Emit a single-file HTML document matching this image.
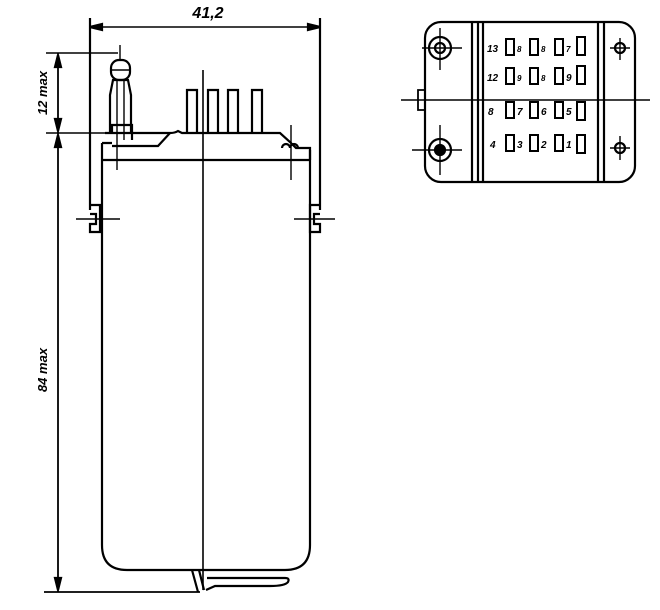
<!DOCTYPE html>
<html><head><meta charset="utf-8"><style>body{margin:0;background:#fff}svg{display:block}</style></head><body>
<svg width="660" height="610" viewBox="0 0 660 610" xmlns="http://www.w3.org/2000/svg" font-family="Liberation Sans, sans-serif" font-weight="bold" font-style="italic">
<g stroke="#000" fill="none" stroke-width="2.2">
<!-- 41,2 dimension -->
<line x1="90" y1="18" x2="90" y2="210"/>
<line x1="320" y1="18" x2="320" y2="210"/>
<line x1="90" y1="27" x2="320" y2="27" stroke-width="1.6"/>
<path d="M90 27 l12 -3 v6z M320 27 l-12 -3 v6z" fill="#000"/>
<!-- 12 max / 84 max -->
<line x1="46" y1="53" x2="118" y2="53" stroke-width="1.6"/>
<line x1="46" y1="133" x2="105" y2="133" stroke-width="1.6"/>
<line x1="58" y1="53" x2="58" y2="592" stroke-width="1.8"/>
<path d="M58 55 l-3 12 h6z M58 131 l-3 -12 h6z M58 135 l-3 12 h6z M58 590 l-3 -12 h6z" fill="#000"/>
<line x1="44" y1="592" x2="200" y2="592" stroke-width="1.8"/>
<!-- center line -->
<line x1="203" y1="70" x2="203" y2="590" stroke-width="1.6"/>
<!-- body -->
<path d="M102 143 V545 Q102 570 127 570 H285 Q310 570 310 545 V150"/>
<path d="M102 143 H112 M102 160 H310"/>
<path d="M105 133 H125 L150 133 L170 133 Q175 133 178 131 L182 133 H280 L290 142 L296 148 H310 V160"/>
<path d="M112 146 H158 L170 133"/>
<!-- pins -->
<path d="M187 133 V90 H197 V133 M208 133 V90 H218 V133 M228 133 V90 H238 V133 M252 133 V90 H262 V133"/>
<!-- stud -->
<path d="M110 133 V95 L113 80 H128 L131 95 V133"/>
<path d="M112 133 V125 H132 V140"/>
<line x1="117" y1="80" x2="117" y2="170" stroke-width="1.4"/>
<line x1="124" y1="80" x2="124" y2="140" stroke-width="1.4"/>
<rect x="111" y="60" width="19" height="20" rx="8"/>
<line x1="120" y1="45" x2="120" y2="60" stroke-width="1.4"/>
<line x1="111" y1="70" x2="130" y2="70" stroke-width="1.4"/>
<!-- right small stud -->
<path d="M282 148 a4 4 0 1 1 8 0 a4 4 0 1 1 8 0" />
<line x1="291" y1="125" x2="291" y2="180" stroke-width="1.4"/>
<!-- tabs -->
<path d="M90 205 H100 V232 H90 V224 H96 V214 H90"/>
<line x1="76" y1="219" x2="120" y2="219" stroke-width="1.6"/>
<path d="M320 205 H310 V232 H320 V224 H314 V214 H320"/>
<line x1="294" y1="219" x2="335" y2="219" stroke-width="1.6"/>
<!-- bottom foot -->
<path d="M192 570 L198 592 M199 570 L204 590 M207 578 H285 Q290 578 288 582 Q285 586 270 586 H215 L206 590"/>
</g>
<text x="208" y="18" font-size="16" text-anchor="middle">41,2</text>
<text transform="translate(47,93) rotate(-90)" font-size="13" text-anchor="middle">12 max</text>
<text transform="translate(47,370) rotate(-90)" font-size="13" text-anchor="middle">84 max</text>

<!-- right view -->
<g stroke="#000" fill="none" stroke-width="2.2">
<rect x="425" y="22" width="210" height="160" rx="16"/>
<line x1="472" y1="22" x2="472" y2="182"/>
<line x1="478" y1="22" x2="478" y2="182"/>
<line x1="483" y1="22" x2="483" y2="182"/>
<line x1="598" y1="22" x2="598" y2="182"/>
<line x1="604" y1="22" x2="604" y2="182"/>
<line x1="401" y1="100" x2="650" y2="100" stroke-width="1.6"/>
<circle cx="440" cy="48" r="11"/><circle cx="440" cy="48" r="5"/>
<line x1="422" y1="48" x2="462" y2="48" stroke-width="1.4"/><line x1="440" y1="28" x2="440" y2="70" stroke-width="1.4"/>
<circle cx="440" cy="150" r="11"/><circle cx="440" cy="150" r="5" fill="#000"/>
<line x1="412" y1="150" x2="462" y2="150" stroke-width="1.4"/><line x1="440" y1="125" x2="440" y2="175" stroke-width="1.4"/>
<circle cx="620" cy="48" r="5"/><line x1="610" y1="48" x2="630" y2="48" stroke-width="1.4"/><line x1="620" y1="38" x2="620" y2="60" stroke-width="1.4"/>
<circle cx="620" cy="148" r="5"/><line x1="610" y1="148" x2="630" y2="148" stroke-width="1.4"/><line x1="620" y1="136" x2="620" y2="160" stroke-width="1.4"/>
<path d="M425 90 H418 V110 H425" stroke-width="1.8"/>
<g stroke-width="2">
<rect x="506" y="39" width="8" height="16"/><rect x="530" y="39" width="8" height="16"/><rect x="555" y="39" width="8" height="16"/><rect x="577" y="37" width="8" height="18"/>
<rect x="506" y="68" width="8" height="16"/><rect x="530" y="68" width="8" height="16"/><rect x="555" y="68" width="8" height="16"/><rect x="577" y="66" width="8" height="18"/>
<rect x="506" y="102" width="8" height="16"/><rect x="530" y="102" width="8" height="16"/><rect x="555" y="102" width="8" height="16"/><rect x="577" y="102" width="8" height="18"/>
<rect x="506" y="135" width="8" height="16"/><rect x="530" y="135" width="8" height="16"/><rect x="555" y="135" width="8" height="16"/><rect x="577" y="135" width="8" height="18"/>
</g>
</g>
<g font-size="10">
<text x="487" y="52">13</text><text x="517" y="52" font-size="8">8</text><text x="541" y="52" font-size="8">8</text><text x="566" y="52" font-size="8">7</text>
<text x="487" y="81">12</text><text x="517" y="81" font-size="8">9</text><text x="541" y="81" font-size="8">8</text><text x="566" y="81">9</text>
<text x="488" y="115">8</text><text x="517" y="115">7</text><text x="541" y="115">6</text><text x="566" y="115">5</text>
<text x="490" y="148">4</text><text x="517" y="148">3</text><text x="541" y="148">2</text><text x="566" y="148">1</text>
</g>
</svg>
</body></html>
